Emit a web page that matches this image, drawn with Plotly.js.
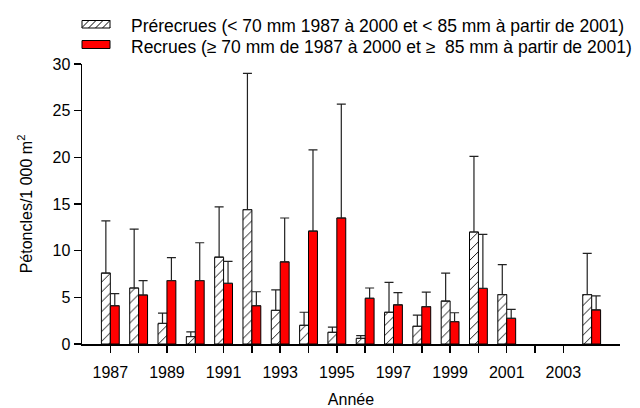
<!DOCTYPE html>
<html>
<head>
<meta charset="utf-8">
<script src="https://cdn.plot.ly/plotly-3.0.1.min.js"></script>
<style>
  html, body { margin: 0; padding: 0; background: #fff; }
  #chart { width: 640px; height: 408px; }
</style>
</head>
<body>
<div id="chart"></div>
<script>
// Survey years (2002 and 2003 have no data)
const years = [1987, 1988, 1989, 1990, 1991, 1992, 1993, 1994, 1995, 1996,
               1997, 1998, 1999, 2000, 2001, 2002, 2003, 2004];
const labelYears = [1987, 1989, 1991, 1993, 1995, 1997, 1999, 2001, 2003];
const labelText  = ['1987', '1989', '1991', '1993', '1995', '1997', '1999', '2001', '2003'];
const minorYears = [1988, 1990, 1992, 1994, 1996, 1998, 2000, 2002];

// Mean densities (scallops / 1 000 m2) and upper error amounts
const prerecrues    = [7.6, 6.0, 2.2, 0.8, 9.3, 14.4, 3.6, 2.0, 1.25, 0.6,
                       3.4, 1.9, 4.6, 12.0, 5.3, null, null, 5.3];
const prerecruesErr = [5.6, 6.3, 1.1, 0.5, 5.4, 14.6, 2.2, 1.4, 0.55, 0.3,
                       3.2, 1.2, 3.0, 8.1, 3.2, null, null, 4.4];
const recrues       = [4.1, 5.25, 6.8, 6.8, 6.5, 4.1, 8.8, 12.1, 13.5, 4.9,
                       4.2, 4.0, 2.4, 5.95, 2.75, null, null, 3.65];
const recruesErr    = [1.3, 1.55, 2.45, 4.05, 2.35, 1.5, 4.7, 8.7, 12.2, 1.1,
                       1.3, 1.55, 0.95, 5.8, 0.95, null, null, 1.5];

const seriesNames = [
  'Prérecrues (&lt; 70 mm 1987 à 2000 et &lt; 85 mm à partir de 2001)',
  'Recrues (≥ 70 mm de 1987 à 2000 et ≥\u00a0 85 mm à partir de 2001)'
];
const zeros = years.map(() => 0);

const FONT = 'Liberation Sans, Arial, Helvetica, sans-serif';

// Plot-area geometry in pixels, used to place the hand-drawn legend
const M = { l: 82, r: 20, t: 64, b: 64 };
const W = 640, H = 408;
const PW = W - M.l - M.r, PH = H - M.t - M.b;
const px = x => (x - M.l) / PW;
const py = y => (H - M.b - y) / PH;

const errStyle = (arr) => ({
  type: 'data', symmetric: false, array: arr, arrayminus: zeros,
  color: '#222', thickness: 1.2, width: 4.5
});

const traces = [
  {
    type: 'bar', x: years, y: prerecrues, name: seriesNames[0],
    marker: {
      color: '#ffffff',
      line: { color: '#000', width: 1 },
      pattern: { shape: '/', fgcolor: '#000', bgcolor: '#fff', size: 7, solidity: 0.13 }
    },
    error_y: errStyle(prerecruesErr)
  },
  {
    type: 'bar', x: years, y: recrues, name: seriesNames[1],
    marker: { color: '#ff0000', line: { color: '#000', width: 1 } },
    error_y: errStyle(recruesErr)
  }
];

// Legend drawn with shapes + annotations
const shapes = [];
const annotations = [];
const sym = { x0: 82, x1: 110 };
const rows = [{ y0: 20.5, y1: 28, text: seriesNames[0], ty: 25.5 },
              { y0: 40.5, y1: 48.5, text: seriesNames[1], ty: 46.5 }];

// hatched swatch
shapes.push({
  type: 'rect', xref: 'paper', yref: 'paper',
  x0: px(sym.x0), x1: px(sym.x1), y0: py(rows[0].y1), y1: py(rows[0].y0),
  fillcolor: '#fff', line: { color: '#000', width: 1 }
});
{
  const h = rows[0].y1 - rows[0].y0;
  for (let xb = sym.x0 - h + 7; xb < sym.x1; xb += 7) {
    let xs = xb, ys = rows[0].y1, xe = xb + h, ye = rows[0].y0;
    if (xs < sym.x0) { ys -= (sym.x0 - xs); xs = sym.x0; }
    if (xe > sym.x1) { ye += (xe - sym.x1); xe = sym.x1; }
    shapes.push({
      type: 'line', xref: 'paper', yref: 'paper',
      x0: px(xs), y0: py(ys), x1: px(xe), y1: py(ye),
      line: { color: '#000', width: 1 }
    });
  }
}
// red swatch
shapes.push({
  type: 'rect', xref: 'paper', yref: 'paper',
  x0: px(sym.x0), x1: px(sym.x1), y0: py(rows[1].y1), y1: py(rows[1].y0),
  fillcolor: '#ff0000', line: { color: '#000', width: 1 }
});
rows.forEach(r => annotations.push({
  xref: 'paper', yref: 'paper', x: px(129), y: py(r.ty),
  xanchor: 'left', yanchor: 'middle', showarrow: false,
  text: r.text, font: { family: FONT, size: 17.5, color: '#000' }
}));

const layout = {
  width: W, height: H,
  margin: M,
  paper_bgcolor: '#fff', plot_bgcolor: '#fff',
  showlegend: false,
  barmode: 'group', bargap: 0.37, bargroupgap: 0,
  font: { family: FONT, size: 16, color: '#000' },
  xaxis: {
    range: [1986, 2005],
    tickmode: 'array', tickvals: labelYears, ticktext: labelText,
    ticks: 'outside', ticklen: 7, tickwidth: 1.5, tickcolor: '#000',
    ticklabelstandoff: 6,
    minor: { tickmode: 'array', tickvals: minorYears, ticks: 'outside', ticklen: 7, tickwidth: 1.5, tickcolor: '#000', showgrid: false },
    showline: true, linecolor: '#000', linewidth: 2,
    showgrid: false, zeroline: false,
    tickfont: { family: FONT, size: 16, color: '#000' },
    title: { text: 'Année', font: { family: FONT, size: 16, color: '#000' }, standoff: 14 }
  },
  yaxis: {
    range: [0, 30], tickvals: [0, 5, 10, 15, 20, 25, 30],
    ticks: 'outside', ticklen: 7, tickwidth: 1.5, tickcolor: '#000',
    showline: true, linecolor: '#000', linewidth: 1.5,
    showgrid: false, zeroline: false,
    tickfont: { family: FONT, size: 16, color: '#000' },
    title: { text: 'Pétoncles/1 000 m<sup>2</sup>', font: { family: FONT, size: 16, color: '#000' }, standoff: 16 }
  },
  shapes: shapes,
  annotations: annotations
};

Plotly.newPlot('chart', traces, layout, { displayModeBar: false, staticPlot: true });
</script>
</body>
</html>
